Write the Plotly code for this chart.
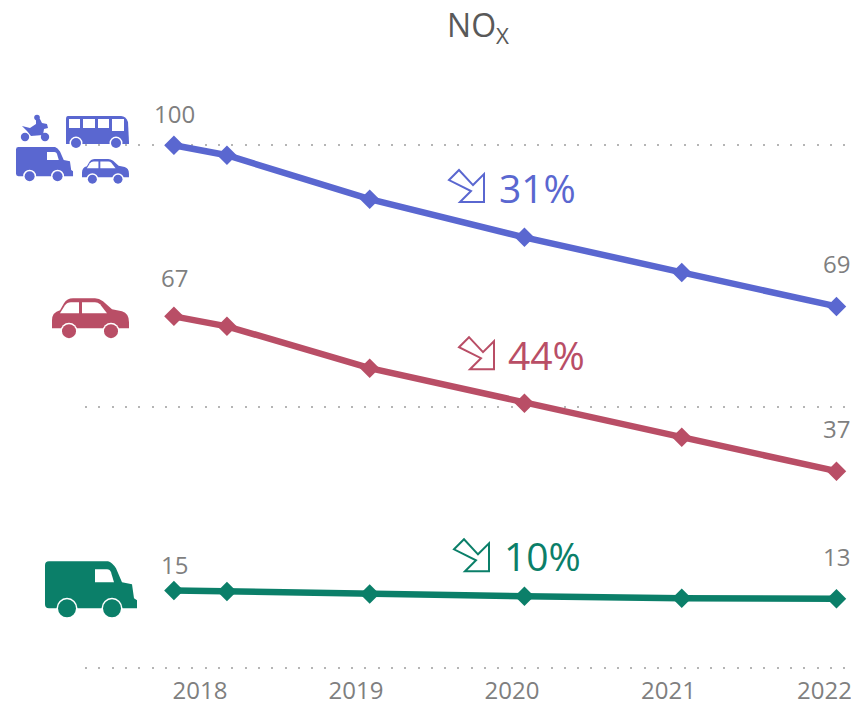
import re
import plotly.graph_objects as go

dates = ["2017-11-01", "2018-03-05", "2019-02-02", "2020-01-30", "2021-02-01", "2022-01-29"]
all_vehicles = [100, 98.1, 89.7, 82.4, 75.7, 69.2]
cars = [67.3, 65.4, 57.4, 50.7, 44.2, 37.7]
vans = [14.9, 14.7, 14.2, 13.8, 13.4, 13.3]
year_ticks = ["2018-01-01", "2019-01-01", "2020-01-01", "2021-01-01", "2022-01-01"]
year_labels = ["2018", "2019", "2020", "2021", "2022"]
start_labels = ["100", "67", "15"]
end_labels = ["69", "37", "13"]
reductions = ["31%", "44%", "10%"]

BLUE, RED, GREEN = "#5a67d0", "#b94e66", "#0b7f69"
GREY = "#7f7f7f"
W, H = 851, 701
L, R, T, B = 85, 0, 93, 30.4
FONT = "Open Sans"


def px(x, y):
    return (x - L) / (W - L - R), 1 - (y - T) / (H - T - B)


def path_shape(cmds, fill=None, line=None, lw=0):
    """cmds: SVG-like path written in pixels of the page, converted to paper space."""
    toks = re.findall(r"[A-Za-z]|-?\d+\.?\d*", cmds)
    out, buf = [], []
    for t in toks:
        if t.isalpha():
            out.append(t)
        else:
            buf.append(float(t))
            if len(buf) == 2:
                a, b = px(*buf)
                out.append(f"{a:.5f},{b:.5f}")
                buf = []
    return dict(type="path", xref="paper", yref="paper", layer="above", path=" ".join(out),
                fillcolor=fill or "rgba(0,0,0,0)",
                line=dict(color=line or "rgba(0,0,0,0)", width=lw))


def circle(cx, cy, r, fill):
    x0, y0 = px(cx - r, cy + r)
    x1, y1 = px(cx + r, cy - r)
    return dict(type="circle", xref="paper", yref="paper", layer="above",
                x0=x0, y0=y0, x1=x1, y1=y1, fillcolor=fill, line=dict(width=0))


def local(cmds, ox, oy, s):
    toks = re.findall(r"[A-Za-z]|-?\d+\.?\d*", cmds)
    out, i = [], 0
    for t in toks:
        if t.isalpha():
            out.append(t)
        else:
            out.append(f"{(float(t) * s + (ox if i % 2 == 0 else oy)):.2f}")
            i += 1
    return " ".join(out)


VAN = "M0 4 Q0 0 4 0 L63 0 Q67 1 71 7 L77 21 L87 23 L89 37 L92 39 L92 47 L4 47 Q0 47 0 43 Z"
VAN_WIN = "M50 8 L62 8 Q65 8 66 11 L69 21 L50 21 Z"
CAR = ("M0 22 Q0 14 8 12 L12 5 Q15 0 21 0 L43 0 Q47 0 51 3 L60 11 L70 13 Q77 15 77 24 "
       "L77 30 L0 30 Z")
CAR_WIN1 = "M8 15 L13 7 Q15 4 19 4 L27 4 L27 15 Z"
CAR_WIN2 = "M30 4 L43 4 Q46 4 48 6 L55 15 L30 15 Z"
BUS = ("M2 0 L55 0 Q60 0 62 6 L63 26 L63 28 L0 28 L0 3 Q0 0 2 0 Z")
BIKE = ("M1 11 L9 13 L15 9 L15 5 Q17 2 19 4 L21 8 L26 9 L27 13 L23 14 L22 20 L10 21 L6 16 Z")


def van(ox, oy, s, color, wr):
    wheels = [(22, 47), (67, 47)]
    sh = [path_shape(local(VAN, ox, oy, s), fill=color),
          path_shape(local(VAN_WIN, ox, oy, s), fill="white")]
    for wx, wy in wheels:
        cx, cy = ox + wx * s, oy + wy * s
        sh += [circle(cx, cy, wr + 1.5, "white"), circle(cx, cy, wr, color)]
    return sh


def car(ox, oy, s, color, wr):
    wheels = [(17, 33), (59, 33)]
    sh = [path_shape(local(CAR, ox, oy, s), fill=color),
          path_shape(local(CAR_WIN1, ox, oy, s), fill="white"),
          path_shape(local(CAR_WIN2, ox, oy, s), fill="white")]
    for wx, wy in wheels:
        cx, cy = ox + wx * s, oy + wy * s
        sh += [circle(cx, cy, wr + 1.5, "white"), circle(cx, cy, wr, color)]
    return sh


def bus(ox, oy, color):
    sh = [path_shape(local(BUS, ox, oy, 1), fill=color)]
    for x0, x1, y1 in [(3, 14, 12), (17, 29, 12), (32, 43, 12), (46, 58, 15)]:
        sh.append(path_shape(local(f"M{x0} 3 L{x1} 3 L{x1} {y1} L{x0} {y1} Z", ox, oy, 1), fill="white"))
    for wx in (10, 50):
        sh += [circle(ox + wx, oy + 27, 6.5, "white"), circle(ox + wx, oy + 27, 5, color)]
    return sh


def bike(ox, oy, color):
    return [path_shape(local(BIKE, ox, oy, 1), fill=color),
            circle(ox + 16, oy + 2.5, 2.8, color),
            circle(ox + 4, oy + 22, 4.2, color),
            circle(ox + 24, oy + 22, 4.2, color)]


def arrow(ox, oy, color):
    d = "M0 10 L10 0 L24 15 L35 4 L35 32 L11 32 L22 21 Z"
    return [path_shape(local(d, ox, oy, 1), line=color, lw=2)]


shapes = []
shapes += bike(21, 115, BLUE) + bus(66, 116, BLUE)
shapes += van(16, 147, 0.62, BLUE, 5) + car(82, 159, 0.61, BLUE, 4.5)
shapes += car(52, 298, 1, RED, 7)
shapes += van(45, 561, 1, GREEN, 9)
shapes += arrow(449, 170, BLUE) + arrow(459, 337, RED) + arrow(454, 539, GREEN)

fig = go.Figure()
series = [("All vehicles", all_vehicles, BLUE), ("Cars", cars, RED), ("Vans", vans, GREEN)]
annotations = []
pct_pos = [(498, 187), (507, 354), (503, 555)]
start_shift = [32, 39, 26]
end_shift = [43, 43, 42]
for i, (name, vals, col) in enumerate(series):
    fig.add_trace(go.Scatter(x=dates, y=vals, name=name, mode="lines+markers",
                             line=dict(color=col, width=6.5),
                             marker=dict(symbol="diamond", size=15, color=col),
                             cliponaxis=False))
    annotations.append(dict(x=dates[0], y=vals[0], xref="x", yref="y", text=start_labels[i],
                            showarrow=False, yshift=start_shift[i], xshift=1,
                            font=dict(family=FONT, size=24, color=GREY)))
    annotations.append(dict(x=dates[-1], y=vals[-1], xref="x", yref="y", text=end_labels[i],
                            showarrow=False, yshift=end_shift[i],
                            font=dict(family=FONT, size=24, color=GREY)))
    ax, ay = px(*pct_pos[i])
    annotations.append(dict(x=ax, y=ay, xref="paper", yref="paper", xanchor="left", yanchor="middle",
                            text=reductions[i], showarrow=False, xshift=-1,
                            font=dict(family=FONT, size=39, color=col)))

fig.update_layout(
    width=W, height=H, autosize=False, showlegend=False,
    paper_bgcolor="white", plot_bgcolor="white",
    margin=dict(l=L, r=R, t=T, b=B, pad=0, autoexpand=False),
    title=dict(text="NO<sub>X</sub>", x=478 / W, xanchor="center", y=1 - 26 / H, yanchor="middle",
               font=dict(family=FONT, size=32, color="#595959")),
    xaxis=dict(type="date", range=["2017-04-07", "2022-03-04"], tickvals=year_ticks, ticktext=year_labels,
               showgrid=False, zeroline=False, showline=False, ticks="", ticklen=0, ticklabelstandoff=3,
               automargin=False, ticklabeloverflow="allow",
               tickfont=dict(family=FONT, size=24, color=GREY)),
    yaxis=dict(range=[-0.5, 110], dtick=50, showticklabels=False, zeroline=False, showline=False,
               automargin=False,
               showgrid=True, gridcolor="#b5b5b5", gridwidth=2, griddash="2px,11.3px"),
    annotations=annotations, shapes=shapes,
)
fig.write_html("out.html", config=dict(displayModeBar=False),
               post_script="document.body.style.margin='0';document.documentElement.style.overflow='hidden';")
